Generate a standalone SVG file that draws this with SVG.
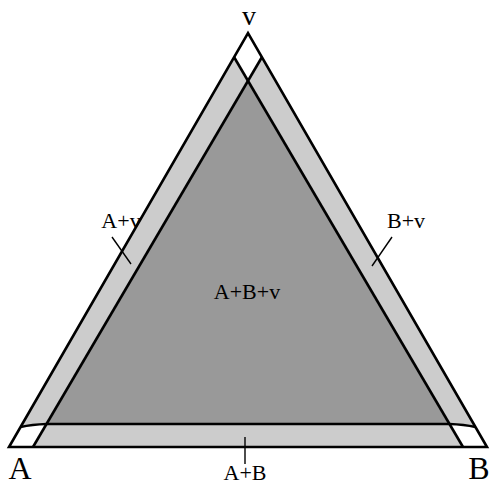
<svg xmlns="http://www.w3.org/2000/svg" width="492" height="485" viewBox="0 0 492 485">
<style>
.ln{fill:none;stroke:#000;stroke-width:2.6;stroke-linejoin:miter;stroke-miterlimit:20}
.tk{fill:none;stroke:#000;stroke-width:1.4}
.lbl{font-family:"Liberation Serif","Times New Roman",serif;font-size:22px;text-anchor:middle;fill:#000}
.big{font-family:"Liberation Serif","Times New Roman",serif;font-size:32px;text-anchor:middle;fill:#000}
</style>
<g id="regions">
<polygon points="9,447 487,447 248,33" fill="#cccccc"/>
<polygon points="248,81 46.5,424 449.5,424" fill="#999999"/>
<polygon points="248,33 262,57 248,81 234,57" fill="#ffffff"/>
<path d="M9,447 L33,447 L46.5,424 Q32,424.5 20.5,427 Z" fill="#ffffff"/>
<path d="M487,447 L463,447 L449.5,424 Q464,424.5 475.5,427 Z" fill="#ffffff"/>
</g>
<g id="lines">
<polygon class="ln" points="9,447 487,447 248,33"/>
<line class="ln" x1="33" y1="447" x2="262" y2="57"/>
<line class="ln" x1="463" y1="447" x2="234" y2="57"/>
<line class="ln" x1="46.5" y1="424" x2="449.5" y2="424"/>
<path class="ln" d="M20.5,427 Q32,424.5 46.5,424"/>
<path class="ln" d="M475.5,427 Q464,424.5 449.5,424"/>
</g>
<g id="ticks">
<line class="tk" x1="112" y1="237" x2="131" y2="264"/>
<line class="tk" x1="392" y1="237" x2="372" y2="266"/>
<line class="tk" x1="245" y1="437" x2="245" y2="464"/>
</g>
<g id="labels">
<text class="big" x="249" y="25" style="font-size:28px">v</text>
<text class="big" x="20" y="479">A</text>
<text class="big" x="479" y="479">B</text>
<text class="lbl" x="121" y="228">A+v</text>
<text class="lbl" x="406" y="228">B+v</text>
<text class="lbl" x="247" y="299">A+B+v</text>
<text class="lbl" x="245" y="480">A+B</text>
</g>
</svg>
